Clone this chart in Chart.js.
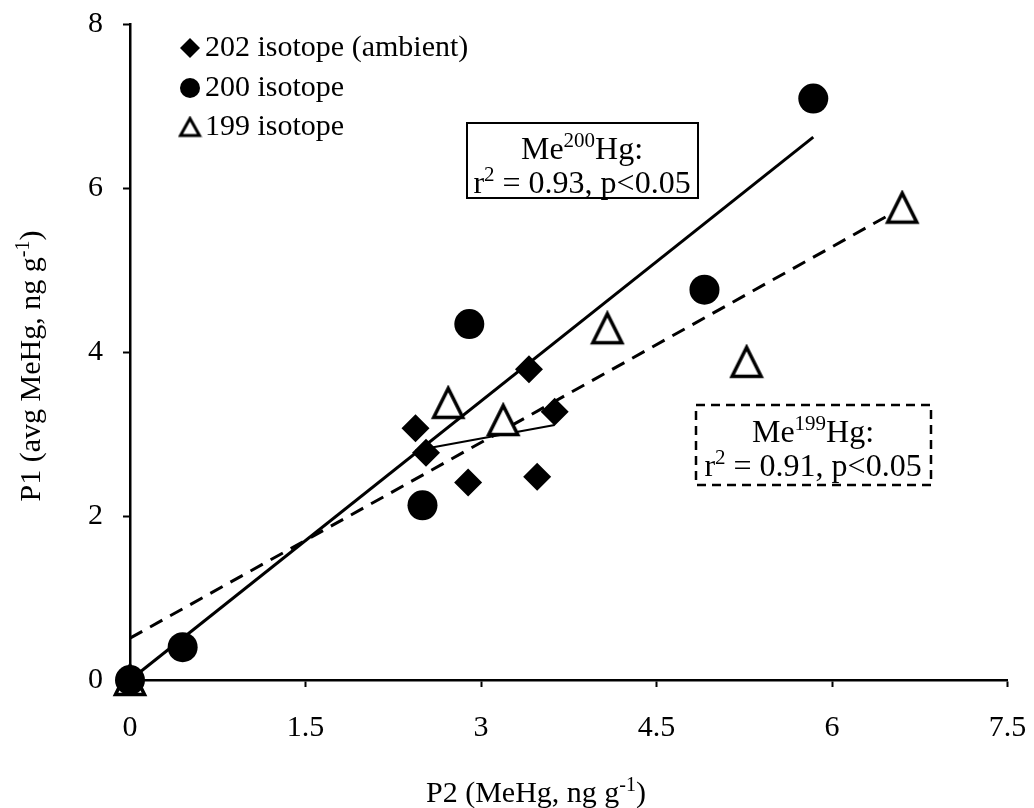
<!DOCTYPE html>
<html>
<head>
<meta charset="utf-8">
<script src="https://cdn.jsdelivr.net/npm/chart.js@4.4.1/dist/chart.umd.min.js"></script>
<style>
  html, body { margin: 0; padding: 0; background: #fff; }
  #wrap { width: 1034px; height: 808px; }
</style>
</head>
<body>
<div id="wrap"><canvas id="isoChart" width="1034" height="808"></canvas></div>
<script>
// values
const xTicks = [0, 1.5, 3, 4.5, 6, 7.5];
const yTicks = [0, 2, 4, 6, 8];

const iso202X = [2.44, 2.53, 2.89, 3.41, 3.48, 3.63];
const iso202Y = [3.07, 2.77, 2.41, 3.79, 2.48, 3.27];

const iso200X = [0, 0.45, 2.50, 2.90, 4.91, 5.84];
const iso200Y = [0, 0.40, 2.13, 4.34, 4.76, 7.09];

const iso199X = [0, 2.72, 3.19, 4.08, 5.27, 6.60];
const iso199Y = [0, 3.38, 3.17, 4.29, 3.88, 5.76];

// trend lines (end points)
const fit200X = [0, 5.84];
const fit200Y = [0, 6.62];
const fit199X = [0, 6.60];
const fit199Y = [0.51, 5.76];
const fit202X = [2.44, 3.63];
const fit202Y = [2.80, 3.11];

const legendLabels = ['202 isotope (ambient)', '200 isotope', '199 isotope'];

const FONT = '"Liberation Serif", "Times New Roman", serif';
const pts = (xs, ys) => xs.map((x, i) => ({ x: x, y: ys[i] }));

function triangleMarker(w, h, lw) {
  const c = document.createElement('canvas');
  c.width = Math.ceil(w + lw * 2);
  c.height = Math.ceil(h + lw * 2);
  const g = c.getContext('2d');
  g.beginPath();
  g.moveTo(lw + w / 2, lw);
  g.lineTo(lw + w, lw + h);
  g.lineTo(lw, lw + h);
  g.closePath();
  g.fillStyle = '#fff';
  g.fill();
  g.lineWidth = lw;
  g.lineJoin = 'miter';
  g.strokeStyle = '#000';
  g.stroke();
  return c;
}
const triBig = triangleMarker(29, 29, 3.5);
const triSmall = triangleMarker(19, 17, 3);

// text with superscript pieces: [[text, isSup], ...]
function richWidth(ctx, parts, size) {
  let w = 0;
  parts.forEach(p => {
    ctx.font = (p[1] ? Math.round(size * 0.65) : size) + 'px ' + FONT;
    w += ctx.measureText(p[0]).width;
  });
  return w;
}
function drawRich(ctx, parts, x, y, size, align) {
  const w = richWidth(ctx, parts, size);
  let cx = align === 'center' ? x - w / 2 : x;
  ctx.textAlign = 'left';
  ctx.textBaseline = 'alphabetic';
  ctx.fillStyle = '#000';
  parts.forEach(p => {
    const s = p[1] ? Math.round(size * 0.65) : size;
    ctx.font = s + 'px ' + FONT;
    ctx.fillText(p[0], cx, p[1] ? y - size * 0.36 : y);
    cx += ctx.measureText(p[0]).width;
  });
}

const decorations = {
  id: 'decorations',
  afterDraw(chart) {
    const ctx = chart.ctx;
    ctx.save();

    // axis titles
    drawRich(ctx, [['P2 (MeHg, ng g', false], ['-1', true], [')', false]], 536, 802, 30, 'center');
    ctx.save();
    ctx.translate(40, 366);
    ctx.rotate(-Math.PI / 2);
    drawRich(ctx, [['P1 (avg MeHg, ng g', false], ['-1', true], [')', false]], 0, 0, 30, 'center');
    ctx.restore();

    // legend
    ctx.fillStyle = '#000';
    ctx.beginPath();
    ctx.moveTo(190, 38); ctx.lineTo(200, 48); ctx.lineTo(190, 58); ctx.lineTo(180, 48);
    ctx.closePath(); ctx.fill();
    ctx.beginPath();
    ctx.arc(190, 88, 10, 0, Math.PI * 2);
    ctx.fill();
    ctx.drawImage(triSmall, 190 - triSmall.width / 2, 127 - triSmall.height / 2);
    ctx.font = '30px ' + FONT;
    ctx.textAlign = 'left';
    ctx.textBaseline = 'middle';
    ctx.fillText(legendLabels[0], 205, 48);
    ctx.fillText(legendLabels[1], 205, 88);
    ctx.fillText(legendLabels[2], 205, 127);

    // r² boxes
    ctx.lineWidth = 2;
    ctx.strokeStyle = '#000';
    ctx.setLineDash([]);
    ctx.strokeRect(467, 123, 231, 75);
    drawRich(ctx, [['Me', false], ['200', true], ['Hg:', false]], 582, 159, 32, 'center');
    drawRich(ctx, [['r', false], ['2', true], [' = 0.93, p<0.05', false]], 582, 193, 32, 'center');

    ctx.lineWidth = 2.5;
    ctx.setLineDash([9, 6]);
    ctx.strokeRect(696, 405, 235, 80);
    ctx.setLineDash([]);
    drawRich(ctx, [['Me', false], ['199', true], ['Hg:', false]], 813, 442, 32, 'center');
    drawRich(ctx, [['r', false], ['2', true], [' = 0.91, p<0.05', false]], 813, 476, 32, 'center');

    ctx.restore();
  }
};

Chart.defaults.font.family = FONT;
Chart.defaults.color = '#000';

const axisCommon = {
  type: 'linear',
  grid: { display: true, drawOnChartArea: false, drawTicks: true, tickLength: 7, tickWidth: 2, tickColor: '#000' },
  border: { display: true, color: '#000', width: 2.5 },
};

const isoChart = new Chart(document.getElementById('isoChart'), {
  type: 'scatter',
  data: {
    datasets: [
      {
        label: 'fit 200', data: pts(fit200X, fit200Y), showLine: true,
        borderColor: '#000', borderWidth: 3, pointRadius: 0, order: 4, clip: false
      },
      {
        label: 'fit 199', data: pts(fit199X, fit199Y), showLine: true,
        borderColor: '#000', borderWidth: 3, borderDash: [14, 9], pointRadius: 0, order: 4, clip: false
      },
      {
        label: 'fit 202', data: pts(fit202X, fit202Y), showLine: true,
        borderColor: '#000', borderWidth: 2, pointRadius: 0, order: 4, clip: false
      },
      {
        label: legendLabels[2], data: pts(iso199X, iso199Y),
        pointStyle: triBig, order: 3, clip: false
      },
      {
        label: legendLabels[1], data: pts(iso200X, iso200Y),
        pointStyle: 'circle', pointRadius: 15, backgroundColor: '#000', borderColor: '#000',
        borderWidth: 0, order: 2, clip: false
      },
      {
        label: legendLabels[0], data: pts(iso202X, iso202Y),
        pointStyle: 'rectRot', pointRadius: 14, backgroundColor: '#000', borderColor: '#000',
        borderWidth: 0, order: 1, clip: false
      }
    ]
  },
  options: {
    responsive: false,
    animation: false,
    events: [],
    layout: { padding: { left: 0, right: 26.5, top: 24, bottom: 0 } },
    plugins: { legend: { display: false }, tooltip: { enabled: false } },
    scales: {
      x: Object.assign({}, axisCommon, {
        min: xTicks[0], max: xTicks[xTicks.length - 1],
        afterFit(scale) { scale.height = 128; scale.paddingLeft = 0; scale.paddingRight = 0; },
        afterBuildTicks(scale) { scale.ticks = xTicks.map(v => ({ value: v })); },
        ticks: { font: { size: 30 }, padding: 23, maxRotation: 0, callback: v => String(v) }
      }),
      y: Object.assign({}, axisCommon, {
        min: yTicks[0], max: yTicks[yTicks.length - 1],
        afterFit(scale) { scale.width = 130; scale.paddingTop = 0; scale.paddingBottom = 0; },
        afterBuildTicks(scale) { scale.ticks = yTicks.map(v => ({ value: v })); },
        ticks: { font: { size: 30 }, padding: 20, callback: v => String(v) }
      })
    }
  },
  plugins: [decorations]
});
</script>
</body>
</html>
